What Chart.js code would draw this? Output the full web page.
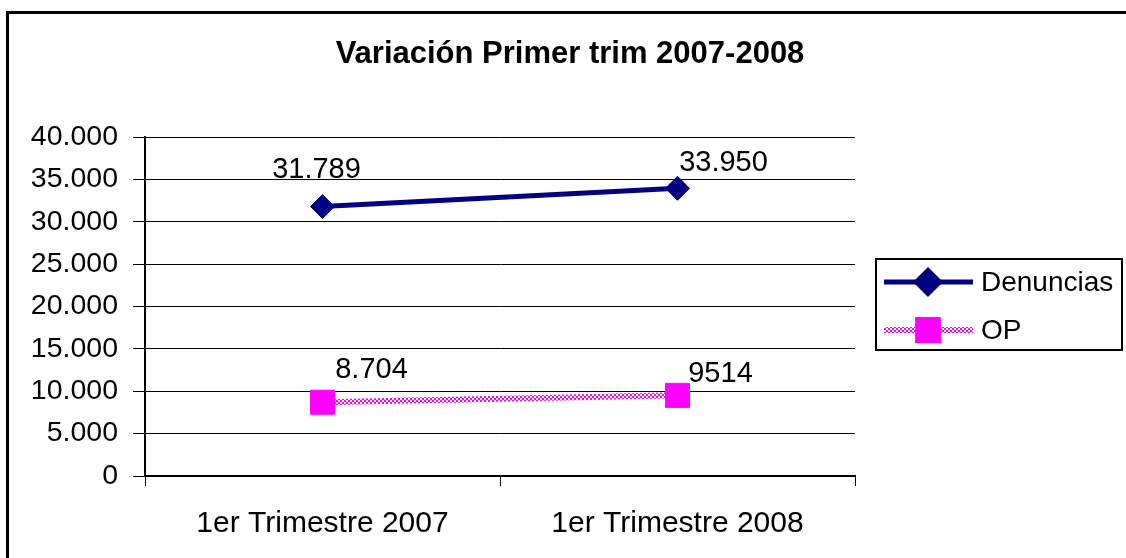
<!DOCTYPE html>
<html>
<head>
<meta charset="utf-8">
<script src="https://cdn.jsdelivr.net/npm/chart.js@4/dist/chart.umd.min.js"></script>
<style>
  html, body { margin: 0; padding: 0; background: #fff; }
  canvas { display: block; }
</style>
</head>
<body>
<canvas id="myChart" width="1126" height="558"></canvas>
<script>
const categories = ['1er Trimestre 2007', '1er Trimestre 2008'];
const denuncias = [31789, 33950];
const op = [8704, 9514];
const denunciasLabels = ['31.789', '33.950'];
const opLabels = ['8.704', '9514'];
const titulo = 'Variación Primer trim 2007-2008';
const yMax = 40000;
const yStep = 5000;

const FONT = '"Liberation Sans", Arial, sans-serif';
const NAVY = '#000080';
const PINK = '#ff00ff';

// checkered pink/white fill for the OP line
function checker() {
    let c = document.createElement('canvas');
    c.width = 4;
    c.height = 4;
    let g = c.getContext('2d');
    g.fillStyle = '#ffffff';
    g.fillRect(0, 0, 4, 4);
    g.fillStyle = PINK;
    g.fillRect(0, 0, 2, 2);
    g.fillRect(2, 2, 2, 2);
    return g.createPattern(c, 'repeat');
}
const opPattern = checker();

function miles(v) {
    return String(v).replace(/\B(?=(\d{3})+(?!\d))/g, '.');
}

// outer frame + title, centred on the whole chart like Excel does
const frame = {
    id: 'frame',
    afterDraw(chart) {
        let ctx = chart.ctx;
        ctx.save();
        ctx.strokeStyle = '#000';
        ctx.lineWidth = 3;
        ctx.strokeRect(7.5, 12.5, 1130, 560);
        ctx.fillStyle = '#000';
        ctx.font = 'bold 31px ' + FONT;
        ctx.textAlign = 'center';
        ctx.textBaseline = 'middle';
        ctx.fillText(titulo, 570, 54);
        ctx.restore();
    }
};

// value labels beside each point
const valueLabels = {
    id: 'valueLabels',
    afterDatasetsDraw(chart) {
        let ctx = chart.ctx;
        let texts = [denunciasLabels, opLabels];
        let offsets = [[[-6, -29], [46, -17]], [[49, -24], [43, -13]]];
        ctx.save();
        ctx.font = '29px ' + FONT;
        ctx.fillStyle = '#000';
        ctx.textAlign = 'center';
        ctx.textBaseline = 'alphabetic';
        chart.data.datasets.forEach((ds, i) => {
            chart.getDatasetMeta(i).data.forEach((pt, j) => {
                ctx.fillText(texts[i][j], pt.x + offsets[i][j][0], pt.y + offsets[i][j][1]);
            });
        });
        ctx.restore();
    }
};

// legend with line + marker, Excel style
const boxLegend = {
    id: 'boxLegend',
    afterDraw(chart) {
        let ctx = chart.ctx;
        ctx.save();
        ctx.strokeStyle = '#000';
        ctx.lineWidth = 2;
        ctx.strokeRect(876, 259, 246, 91);
        let rows = [282, 330];
        chart.data.datasets.forEach((ds, i) => {
            let y = rows[i];
            ctx.strokeStyle = ds.borderColor;
            ctx.lineWidth = ds.borderWidth;
            ctx.beginPath();
            ctx.moveTo(884, y);
            ctx.lineTo(973, y);
            ctx.stroke();
            ctx.fillStyle = ds.pointBackgroundColor;
            ctx.strokeStyle = ds.pointBorderColor;
            Chart.helpers.drawPoint(ctx, {
                pointStyle: ds.pointStyle,
                radius: i == 0 ? 11.5 : 14,
                rotation: 0,
                borderWidth: 1
            }, 928, y);
            ctx.fillStyle = '#000';
            ctx.font = '28px ' + FONT;
            ctx.textAlign = 'left';
            ctx.textBaseline = 'middle';
            ctx.fillText(ds.label, 981, y + 1);
        });
        ctx.restore();
    }
};

new Chart(document.getElementById('myChart'), {
    type: 'line',
    data: {
        labels: categories,
        datasets: [{
            label: 'Denuncias',
            data: denuncias,
            borderColor: NAVY,
            borderWidth: 5,
            pointStyle: 'rectRot',
            pointRadius: 12,
            pointBackgroundColor: NAVY,
            pointBorderColor: NAVY,
            pointBorderWidth: 1,
            tension: 0
        }, {
            label: 'OP',
            data: op,
            borderColor: opPattern,
            borderWidth: 6,
            pointStyle: 'rect',
            pointRadius: 17,
            pointBackgroundColor: PINK,
            pointBorderColor: PINK,
            pointBorderWidth: 1,
            tension: 0
        }]
    },
    options: {
        responsive: false,
        animation: false,
        devicePixelRatio: 1,
        layout: {
            padding: { left: 0, top: 137, right: 271, bottom: 0 }
        },
        plugins: {
            legend: { display: false },
            tooltip: { enabled: false },
            title: { display: false }
        },
        scales: {
            x: {
                offset: true,
                grid: {
                    offset: true,
                    drawOnChartArea: false,
                    drawTicks: true,
                    tickLength: 10,
                    color: '#000',
                    lineWidth: 1
                },
                border: { display: true, color: '#000', width: 2 },
                ticks: {
                    color: '#000',
                    font: { family: FONT, size: 30 },
                    padding: 20,
                    maxRotation: 0
                },
                afterFit(scale) { scale.height = 82; }
            },
            y: {
                min: 0,
                max: yMax,
                grid: {
                    color: '#000',
                    lineWidth: 1,
                    tickLength: 12
                },
                border: { display: true, color: '#000', width: 2 },
                ticks: {
                    stepSize: yStep,
                    color: '#000',
                    font: { family: FONT, size: 28.5 },
                    padding: 15,
                    callback: (v) => miles(v)
                },
                afterFit(scale) { scale.width = 145; }
            }
        }
    },
    plugins: [frame, valueLabels, boxLegend]
});
</script>
</body>
</html>
